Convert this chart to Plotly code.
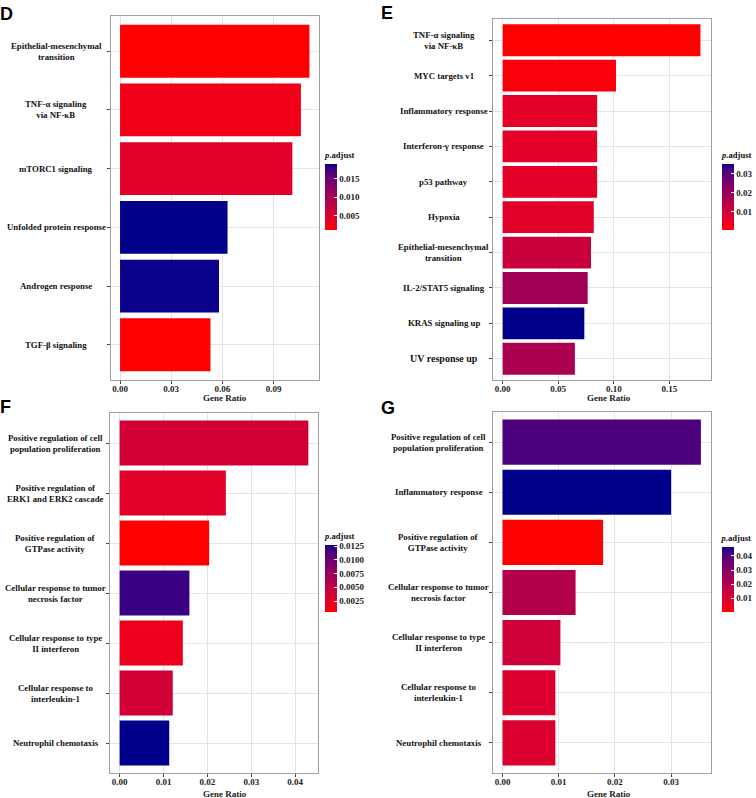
import numpy as np
import plotly.graph_objects as go

W, H = 756, 798

# ---------------- data ----------------
d_terms = ["Epithelial-mesenchymal transition", "TNF-α signaling via NF-κB", "mTORC1 signaling",
           "Unfolded protein response", "Androgen response", "TGF-β signaling"]
d_labels = ["Epithelial-mesenchymal<br>transition", "TNF-α signaling<br>via NF-κB", "mTORC1 signaling",
            "Unfolded protein response", "Androgen response", "TGF-β signaling"]
d_ratio = [0.111, 0.106, 0.101, 0.063, 0.058, 0.053]
d_padj = [0.0010, 0.0023, 0.0041, 0.0191, 0.0189, 0.0011]
d_xticks = [0, 0.03, 0.06, 0.09]
d_cbticks = [0.005, 0.010, 0.015]

e_terms = ["TNF-α signaling via NF-κB", "MYC targets v1", "Inflammatory response", "Interferon-γ response",
           "p53 pathway", "Hypoxia", "Epithelial-mesenchymal transition", "IL-2/STAT5 signaling",
           "KRAS signaling up", "UV response up"]
e_labels = ["TNF-α signaling<br>via NF-κB", "MYC targets v1", "Inflammatory response", "Interferon-γ response",
            "p53 pathway", "Hypoxia", "Epithelial-mesenchymal<br>transition", "IL-2/STAT5 signaling",
            "KRAS signaling up", "UV response up"]
e_ratio = [0.178, 0.102, 0.085, 0.085, 0.085, 0.082, 0.0795, 0.0765, 0.0735, 0.065]
e_padj = [0.0002, 0.0013, 0.0055, 0.0055, 0.0055, 0.0062, 0.0107, 0.0185, 0.0352, 0.0165]
e_xticks = [0, 0.05, 0.10, 0.15]
e_cbticks = [0.01, 0.02, 0.03]

f_terms = ["Positive regulation of cell population proliferation", "Positive regulation of ERK1 and ERK2 cascade",
           "Positive regulation of GTPase activity", "Cellular response to tumor necrosis factor",
           "Cellular response to type II interferon", "Cellular response to interleukin-1",
           "Neutrophil chemotaxis"]
f_labels = ["Positive regulation of cell<br>population proliferation", "Positive regulation of<br>ERK1 and ERK2 cascade",
            "Positive regulation of<br>GTPase activity", "Cellular response to tumor<br>necrosis factor",
            "Cellular response to type<br>II interferon", "Cellular response to<br>interleukin-1",
            "Neutrophil chemotaxis"]
f_ratio = [0.0430, 0.0242, 0.0204, 0.0159, 0.0144, 0.0121, 0.0113]
f_padj = [0.0037, 0.0025, 0.0005, 0.0118, 0.0017, 0.0037, 0.0127]
f_xticks = [0, 0.01, 0.02, 0.03, 0.04]
f_cbticks = [0.0025, 0.0050, 0.0075, 0.0100, 0.0125]

g_terms = ["Positive regulation of cell population proliferation", "Inflammatory response",
           "Positive regulation of GTPase activity", "Cellular response to tumor necrosis factor",
           "Cellular response to type II interferon", "Cellular response to interleukin-1",
           "Neutrophil chemotaxis"]
g_labels = ["Positive regulation of cell<br>population proliferation", "Inflammatory response",
            "Positive regulation of<br>GTPase activity", "Cellular response to tumor<br>necrosis factor",
            "Cellular response to type<br>II interferon", "Cellular response to<br>interleukin-1",
            "Neutrophil chemotaxis"]
g_ratio = [0.0353, 0.0300, 0.0179, 0.0130, 0.0103, 0.0094, 0.0094]
g_padj = [0.0408, 0.0463, 0.0003, 0.0196, 0.0132, 0.0095, 0.0095]
g_xticks = [0, 0.01, 0.02, 0.03]
g_cbticks = [0.01, 0.02, 0.03, 0.04]

# ---------------- colour scale (Lab interpolation, like ggplot) ----------------
def srgb_to_lab(rgb):
    c = np.array(rgb, float) / 255
    c = np.where(c > 0.04045, ((c + 0.055) / 1.055) ** 2.4, c / 12.92)
    M = np.array([[0.4124, 0.3576, 0.1805], [0.2126, 0.7152, 0.0722], [0.0193, 0.1192, 0.9505]])
    xyz = M @ c / np.array([0.95047, 1.0, 1.08883])
    f = np.where(xyz > 0.008856, np.cbrt(xyz), 7.787 * xyz + 16 / 116)
    return np.array([116 * f[1] - 16, 500 * (f[0] - f[1]), 200 * (f[1] - f[2])])

def lab_to_srgb(lab):
    L, a, b = lab
    fy_ = (L + 16) / 116
    f = np.array([fy_ + a / 500, fy_, fy_ - b / 200])
    xyz = np.where(f ** 3 > 0.008856, f ** 3, (f - 16 / 116) / 7.787) * np.array([0.95047, 1.0, 1.08883])
    Minv = np.array([[3.2406, -1.5372, -0.4986], [-0.9689, 1.8758, 0.0415], [0.0557, -0.2040, 1.0570]])
    c = Minv @ xyz
    c = np.where(c > 0.0031308, 1.055 * np.clip(c, 0, None) ** (1 / 2.4) - 0.055, 12.92 * c)
    c = np.clip(c, 0, 1) * 255
    return "rgb(%d,%d,%d)" % tuple(np.round(c).astype(int))

lo, hi = srgb_to_lab((255, 0, 0)), srgb_to_lab((0, 0, 139))
cscale = [[t, lab_to_srgb(lo + (hi - lo) * t)] for t in np.linspace(0, 1, 21)]

# ---------------- layout helpers ----------------
SERIF = "Liberation Serif, Times New Roman, serif"
SANS = "Liberation Sans, Arial, sans-serif"
fx = lambda p: p / W
fy = lambda p: 1 - p / H

panels = [
    dict(terms=d_terms, labels=d_labels, ratio=d_ratio, padj=d_padj, xticks=d_xticks, cbticks=d_cbticks,
         cbfmt=".3f", xr=[-0.0053, 0.1166], xd=[111, 319], yd=[16, 380], cbx=325, cbtop=149, cbbot=230,
         labx=56, letter="D", lx=6, ly=14, tx=224.5, ty=398),
    dict(terms=e_terms, labels=e_labels, ratio=e_ratio, padj=e_padj, xticks=e_xticks, cbticks=e_cbticks,
         cbfmt=".2f", xr=[-0.0087, 0.1875], xd=[493, 711], yd=[19, 380], cbx=722, cbtop=149, cbbot=230,
         labx=443.5, letter="E", lx=387, ly=13.5, tx=608.8, ty=398),
    dict(terms=f_terms, labels=f_labels, ratio=f_ratio, padj=f_padj, xticks=f_xticks, cbticks=f_cbticks,
         cbfmt=".4f", xr=[-0.0022, 0.0452], xd=[110, 318], yd=[413, 773], cbx=325, cbtop=530, cbbot=611.7,
         labx=55.5, letter="F", lx=5, ly=406.5, tx=224.5, ty=794),
    dict(terms=g_terms, labels=g_labels, ratio=g_ratio, padj=g_padj, xticks=g_xticks, cbticks=g_cbticks,
         cbfmt=".2f", xr=[-0.0017, 0.0371], xd=[493, 711], yd=[412, 773], cbx=721.5, cbtop=532, cbbot=611.7,
         labx=438.5, letter="G", lx=387.5, ly=407.5, tx=608.8, ty=794),
]

fig = go.Figure()
annotations = []
layout = dict(width=W, height=H, margin=dict(l=0, r=0, t=0, b=0), autosize=False,
              paper_bgcolor="white", plot_bgcolor="white", showlegend=False)

for i, p in enumerate(panels):
    k = "" if i == 0 else str(i + 1)
    n = len(p["terms"])
    fig.add_trace(go.Bar(
        x=p["ratio"], y=p["terms"], orientation="h", width=0.9,
        marker=dict(color=p["padj"], coloraxis="coloraxis" + k, line=dict(width=0)),
        xaxis="x" + k, yaxis="y" + k, hoverinfo="x+y"))
    layout["xaxis" + k] = dict(
        domain=[fx(p["xd"][0]), fx(p["xd"][1])], anchor="y" + k, range=p["xr"],
        tickvals=p["xticks"], tickformat=".2f", ticks="outside", ticklen=3, tickcolor="#444",
        ticklabelstandoff=-3,
        tickfont=dict(family=SERIF, size=9, color="#222", weight="bold"),
        showgrid=True, gridcolor="#E4E4E4", gridwidth=1, zeroline=False,
        showline=True, linecolor="#A0A0A0", linewidth=1, mirror=True)
    layout["yaxis" + k] = dict(
        domain=[fy(p["yd"][1]), fy(p["yd"][0])], anchor="x" + k, type="category",
        categoryorder="array", categoryarray=p["terms"][::-1], range=[-0.6, n - 0.4],
        showticklabels=False, ticks="outside", ticklen=3, tickcolor="#444",
        showgrid=True, gridcolor="#E4E4E4", gridwidth=1, zeroline=False,
        showline=True, linecolor="#A0A0A0", linewidth=1, mirror=True)
    layout["coloraxis" + k] = dict(
        colorscale=cscale,
        colorbar=dict(
            x=fx(p["cbx"]), xanchor="left", y=fy(p["cbtop"]), yanchor="top",
            lenmode="pixels", len=p["cbbot"] - p["cbtop"], thickness=12, xpad=0, ypad=0, outlinewidth=0,
            tickvals=p["cbticks"], tickformat=p["cbfmt"], ticks="inside", ticklen=3, tickcolor="white",
            tickfont=dict(family=SERIF, size=9, color="#222", weight="bold"),
            title=dict(text="<i>p</i>.adjust", side="top",
                       font=dict(family=SERIF, size=8.6, color="#111", weight="bold"))))
    for term, lab in zip(p["terms"], p["labels"]):
        size = 10 if term == "UV response up" else 8.8
        annotations.append(dict(
            x=fx(p["labx"]), xref="paper", y=term, yref="y" + k, text=lab, showarrow=False,
            xanchor="center", yanchor="middle", align="center",
            font=dict(family=SERIF, size=size, color="#111", weight="bold")))
    annotations.append(dict(
        x=fx(p["tx"]), xref="paper", y=fy(p["ty"]), yref="paper", text="Gene Ratio", showarrow=False,
        xanchor="center", yanchor="middle", font=dict(family=SERIF, size=9, color="#222", weight="bold")))
    annotations.append(dict(
        x=fx(p["lx"]), xref="paper", y=fy(p["ly"]), yref="paper", text=p["letter"], showarrow=False,
        xanchor="center", yanchor="middle", font=dict(family=SANS, size=18, color="black", weight="bold")))

layout["annotations"] = annotations
fig.update_layout(**layout)
fig.write_html("out.html")
